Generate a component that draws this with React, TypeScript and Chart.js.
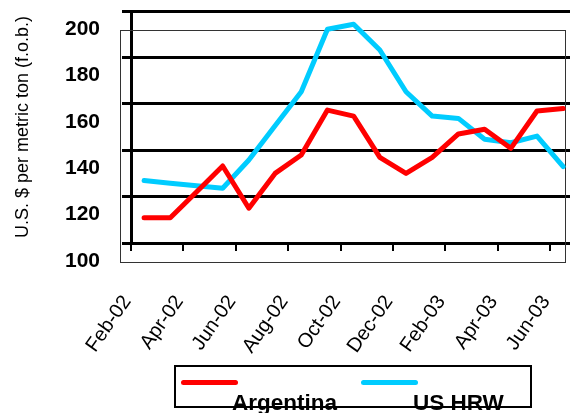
import React, { useEffect, useRef } from "react";
import { Chart, registerables } from "chart.js";

Chart.register(...registerables);

const months = [
  "Feb-02", "Mar-02", "Apr-02", "May-02", "Jun-02", "Jul-02", "Aug-02", "Sep-02",
  "Oct-02", "Nov-02", "Dec-02", "Jan-03", "Feb-03", "Mar-03", "Apr-03", "May-03", "Jun-03",
];
const argentina = [110.9, 110.9, 122, 133.2, 115, 130, 137.9, 157.3, 154.7, 136.9, 130, 136.9, 147, 149, 140.8, 156.9, 158];
const usHrw = [126.9, 125.8, 124.7, 123.6, 135.8, 150.5, 165.2, 192.1, 194.3, 183.2, 165.2, 154.7, 153.7, 144.7, 143.2, 146.1, 132.9];
const yTicks = [100, 120, 140, 160, 180, 200];
const seriesNames = ["Argentina", "US HRW"];
const seriesColors = ["#FF0000", "#00CCFF"];
const yTitle = "U.S. $ per metric ton (f.o.b.)";

const FONT = "Arial, 'Liberation Sans', sans-serif";

const plotFrame = {
  id: "plotFrame",
  beforeDatasetsDraw(chart: any) {
    const { ctx, chartArea } = chart;
    ctx.save();
    ctx.strokeStyle = "#333";
    ctx.lineWidth = 1;
    ctx.strokeRect(chartArea.left - 10.5, chartArea.top + 19.5, chartArea.right - chartArea.left + 6, chartArea.bottom - chartArea.top);
    ctx.restore();
  },
};

const zeroPad = (s: any) => {
  s.paddingLeft = 0;
  s.paddingRight = 0;
  s.paddingTop = 0;
  s.paddingBottom = 0;
};

export default function App() {
  const ref = useRef<HTMLCanvasElement | null>(null);

  useEffect(() => {
    const canvas = ref.current;
    if (!canvas) return;
    const series = [argentina, usHrw];
    const chart = new Chart(canvas, {
      type: "line",
      data: {
        datasets: series.map((vals, s) => ({
          label: seriesNames[s],
          data: vals.map((v, i) => ({ x: i, y: v })),
          borderColor: seriesColors[s],
          backgroundColor: seriesColors[s],
          borderWidth: 5,
          pointRadius: 0,
          tension: 0,
          fill: false,
          borderJoinStyle: "round" as const,
          borderCapStyle: "round" as const,
        })),
      },
      options: {
        animation: false,
        responsive: false,
        layout: { padding: { top: 11, right: 0, left: 0, bottom: 0 } },
        plugins: { legend: { display: false }, tooltip: { enabled: false } },
        scales: {
          x: {
            type: "linear",
            min: -0.5,
            max: 16.26,
            afterBuildTicks: (s: any) => {
              s.ticks = months
                .map((_, i) => i)
                .filter((i) => i % 2 === 0)
                .map((i) => ({ value: i - 0.5 }));
            },
            afterFit: (s: any) => {
              s.height = 170;
              zeroPad(s);
            },
            grid: { drawOnChartArea: false, color: "#000", lineWidth: 2, tickLength: 8 },
            border: { color: "#000", width: 3 },
            ticks: {
              autoSkip: false,
              maxRotation: 55,
              minRotation: 55,
              padding: 40,
              labelOffset: -4,
              color: "#000",
              font: { family: FONT, size: 20 },
              callback: (v: any) => months[Math.round(Number(v) + 0.5)] ?? "",
            },
          },
          y: {
            min: 100,
            max: 200,
            afterBuildTicks: (s: any) => {
              s.ticks = yTicks.map((v) => ({ value: v }));
            },
            afterFit: (s: any) => {
              s.width = 131;
              zeroPad(s);
            },
            grid: { color: "#000", lineWidth: 3, tickLength: 9 },
            border: { color: "#000", width: 3 },
            ticks: {
              padding: 22,
              labelOffset: 18,
              color: "#000",
              font: { family: FONT, size: 21, weight: "bold" },
            },
            title: {
              display: true,
              text: yTitle,
              color: "#000",
              font: { family: FONT, size: 18 },
              padding: { top: 12, bottom: 0 },
            },
          },
        },
      },
      plugins: [plotFrame],
    } as any);
    return () => chart.destroy();
  }, []);

  const legendText = (left: number): React.CSSProperties => ({
    position: "absolute",
    left,
    top: 392,
    font: `bold 22.5px ${FONT}`,
    lineHeight: "22px",
    color: "#000",
    whiteSpace: "nowrap",
  });
  const legendLine = (left: number, color: string): React.CSSProperties => ({
    position: "absolute",
    left,
    top: 380,
    width: 57,
    height: 5,
    borderRadius: 3,
    background: color,
  });

  return (
    <div style={{ position: "fixed", left: 0, top: 0, width: 570, height: 413, overflow: "hidden", background: "#fff" }}>
      <canvas ref={ref} width={570} height={413} style={{ position: "absolute", left: 0, top: 0 }} />
      <div
        style={{
          position: "absolute",
          left: 174,
          top: 365,
          width: 358,
          height: 43,
          border: "2px solid #000",
          boxSizing: "border-box",
        }}
      />
      <div style={legendLine(181, seriesColors[0])} />
      <div style={legendLine(361, seriesColors[1])} />
      <div style={legendText(232)}>{seriesNames[0]}</div>
      <div style={legendText(413)}>{seriesNames[1]}</div>
    </div>
  );
}
